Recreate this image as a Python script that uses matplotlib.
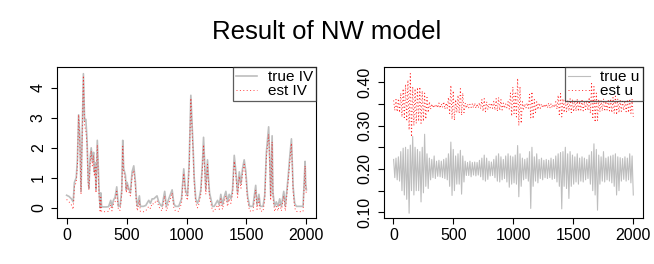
import numpy as np
import matplotlib
matplotlib.use("Agg")
import matplotlib.pyplot as plt

plt.rcParams['font.family'] = ['Liberation Sans', 'DejaVu Sans']

# ---- left panel: integrated variance, true vs estimated
iv_t = [0, 20, 40, 55, 65, 80, 90, 100, 110, 120, 130, 140, 150, 160, 170, 180, 186,
        195, 205, 215, 225, 231, 238, 245, 256, 265, 272, 280, 285, 292, 310, 330, 350,
        368, 378, 390, 404, 418, 432, 446, 460, 468, 476, 490, 498, 504, 518, 532, 546,
        560, 573, 582, 590, 607, 615, 640, 660, 685, 699, 713, 727, 741, 754, 768, 782,
        796, 818, 832, 852, 866, 880, 894, 907, 935, 958, 977, 991, 1008, 1022, 1036,
        1044, 1055, 1064, 1077, 1091, 1105, 1119, 1133, 1142, 1153, 1161, 1175, 1183,
        1192, 1203, 1217, 1231, 1245, 1259, 1273, 1286, 1300, 1314, 1328, 1342, 1356,
        1370, 1384, 1398, 1412, 1426, 1440, 1454, 1467, 1481, 1495, 1509, 1526, 1554,
        1577, 1588, 1604, 1615, 1638, 1652, 1666, 1685, 1694, 1702, 1714, 1721, 1735,
        1749, 1763, 1777, 1791, 1811, 1824, 1847, 1861, 1875, 1889, 1902, 1916, 1940,
        1972, 1989, 1994, 2000]
iv_true = [0.42, 0.38, 0.30, 0.20, 0.85, 1.00, 1.60, 3.10, 2.40, 0.55, 2.60, 4.47, 2.90,
           2.95, 2.30, 0.95, 0.65, 1.60, 2.00, 1.55, 1.85, 1.20, 1.50, 0.60, 2.25, 1.20,
           0.45, 0.00, 0.50, 0.03, 0.03, 0.03, 0.04, 0.25, 0.04, 0.25, 0.35, 0.70, 0.05,
           0.06, 0.60, 2.25, 1.30, 1.10, 0.60, 0.85, 0.65, 0.50, 1.20, 1.40, 0.90, 0.30,
           0.05, 0.40, 0.05, 0.05, 0.08, 0.25, 0.15, 0.30, 0.30, 0.35, 0.40, 0.20, 0.10,
           0.05, 0.55, 0.05, 0.30, 0.45, 0.60, 0.15, 0.05, 0.05, 0.30, 1.30, 0.60, 0.40,
           1.50, 3.75, 3.00, 2.00, 1.00, 0.30, 0.15, 0.30, 0.60, 1.50, 2.35, 1.30, 0.60,
           1.60, 1.00, 0.50, 0.30, 0.05, 0.05, 0.15, 0.25, 0.10, 0.45, 0.10, 0.35, 0.55,
           0.20, 0.45, 0.30, 0.60, 1.75, 1.20, 0.50, 1.20, 0.80, 1.30, 1.60, 1.20, 0.40,
           0.05, 0.05, 0.75, 0.10, 0.45, 0.05, 0.05, 0.40, 1.85, 2.70, 1.60, 0.40, 2.40,
           0.50, 0.05, 0.20, 0.05, 0.30, 0.05, 0.55, 0.05, 1.00, 1.70, 2.30, 0.70, 0.15,
           0.05, 0.05, 0.05, 1.55, 0.80, 0.60]
iv_est = [0.28, 0.20, 0.10, -0.05, 0.70, 0.85, 1.40, 3.10, 2.20, 0.45, 2.50, 4.40, 2.70,
          2.60, 2.10, 0.80, 0.60, 1.40, 1.90, 1.40, 1.75, 1.05, 1.35, 0.50, 2.10, 1.00,
          0.30, -0.15, 0.35, -0.12, -0.13, -0.12, -0.12, 0.10, -0.10, 0.12, 0.20, 0.55,
          -0.08, -0.08, 0.45, 2.05, 1.20, 0.95, 0.50, 0.75, 0.55, 0.40, 1.05, 1.25, 0.75,
          0.15, -0.10, 0.25, -0.12, -0.13, -0.10, 0.05, -0.02, 0.15, 0.12, 0.20, 0.25,
          0.05, -0.05, -0.10, 0.40, -0.10, 0.15, 0.30, 0.50, 0.00, -0.10, -0.12, 0.15,
          1.15, 0.45, 0.25, 1.30, 3.65, 2.80, 1.85, 0.85, 0.15, 0.00, 0.15, 0.45, 1.35,
          2.10, 1.15, 0.45, 1.45, 0.85, 0.35, 0.15, -0.10, -0.12, 0.00, 0.10, -0.05,
          0.30, -0.05, 0.20, 0.40, 0.05, 0.30, 0.15, 0.45, 1.55, 1.05, 0.35, 1.05, 0.65,
          1.15, 1.45, 1.00, 0.25, -0.10, -0.12, 0.60, -0.05, 0.30, -0.10, -0.12, 0.25,
          1.70, 2.45, 1.45, 0.25, 2.20, 0.35, -0.12, 0.05, -0.10, 0.15, -0.10, 0.40,
          -0.10, 0.85, 1.50, 2.15, 0.55, 0.00, -0.12, -0.13, -0.12, 1.40, 0.65, 0.45]

# ---- right panel: u series, upper / lower swings every 20 steps (t = 0..2000)
u_true_hi = [0.222, 0.225, 0.228, 0.240, 0.248, 0.250, 0.245, 0.255, 0.275, 0.250,
             0.245, 0.240, 0.250, 0.280, 0.235, 0.225, 0.222, 0.230, 0.218, 0.220,
             0.218, 0.222, 0.225, 0.235, 0.262, 0.245, 0.230, 0.235, 0.243, 0.230,
             0.218, 0.215, 0.218, 0.215, 0.216, 0.215, 0.220, 0.225, 0.232, 0.225,
             0.218, 0.216, 0.222, 0.230, 0.235, 0.228, 0.222, 0.230, 0.235, 0.230,
             0.228, 0.232, 0.254, 0.235, 0.225, 0.222, 0.225, 0.240, 0.250, 0.228,
             0.235, 0.222, 0.225, 0.220, 0.222, 0.220, 0.225, 0.222, 0.230, 0.235,
             0.238, 0.240, 0.250, 0.235, 0.240, 0.232, 0.228, 0.235, 0.225, 0.228,
             0.225, 0.222, 0.232, 0.240, 0.258, 0.245, 0.232, 0.228, 0.240, 0.225,
             0.228, 0.230, 0.232, 0.235, 0.228, 0.226, 0.224, 0.228, 0.225, 0.235,
             0.230]
u_true_lo = [0.180, 0.175, 0.172, 0.150, 0.140, 0.130, 0.098, 0.150, 0.140, 0.150,
             0.150, 0.124, 0.145, 0.160, 0.155, 0.175, 0.180, 0.178, 0.183, 0.182,
             0.180, 0.178, 0.175, 0.160, 0.139, 0.150, 0.165, 0.165, 0.142, 0.170,
             0.185, 0.185, 0.182, 0.186, 0.184, 0.186, 0.182, 0.175, 0.172, 0.176,
             0.184, 0.185, 0.180, 0.172, 0.170, 0.175, 0.178, 0.170, 0.158, 0.165,
             0.168, 0.165, 0.136, 0.160, 0.175, 0.178, 0.172, 0.109, 0.160, 0.172,
             0.168, 0.178, 0.175, 0.180, 0.178, 0.180, 0.176, 0.178, 0.170, 0.160,
             0.108, 0.160, 0.155, 0.132, 0.160, 0.165, 0.170, 0.165, 0.172, 0.170,
             0.175, 0.178, 0.165, 0.150, 0.140, 0.105, 0.165, 0.172, 0.170, 0.175,
             0.172, 0.168, 0.160, 0.140, 0.150, 0.172, 0.176, 0.172, 0.175, 0.168,
             0.140]
u_est_hi = [0.358, 0.360, 0.362, 0.375, 0.385, 0.395, 0.405, 0.420, 0.390, 0.385,
            0.388, 0.389, 0.380, 0.375, 0.365, 0.355, 0.350, 0.348, 0.349, 0.352,
            0.350, 0.355, 0.352, 0.365, 0.393, 0.380, 0.360, 0.370, 0.385, 0.375,
            0.352, 0.350, 0.349, 0.350, 0.352, 0.350, 0.353, 0.360, 0.362, 0.355,
            0.350, 0.352, 0.356, 0.362, 0.365, 0.360, 0.352, 0.350, 0.355, 0.375,
            0.389, 0.375, 0.409, 0.390, 0.355, 0.350, 0.352, 0.372, 0.378, 0.360,
            0.355, 0.352, 0.350, 0.349, 0.350, 0.352, 0.350, 0.349, 0.355, 0.370,
            0.374, 0.362, 0.360, 0.358, 0.362, 0.360, 0.358, 0.360, 0.356, 0.358,
            0.355, 0.358, 0.365, 0.397, 0.390, 0.375, 0.360, 0.358, 0.362, 0.356,
            0.358, 0.362, 0.365, 0.368, 0.362, 0.358, 0.356, 0.358, 0.360, 0.362,
            0.360]
u_est_lo = [0.335, 0.332, 0.330, 0.320, 0.315, 0.310, 0.290, 0.274, 0.300, 0.305,
            0.310, 0.305, 0.310, 0.315, 0.330, 0.338, 0.341, 0.342, 0.341, 0.340,
            0.342, 0.338, 0.340, 0.328, 0.315, 0.312, 0.330, 0.328, 0.324, 0.330,
            0.340, 0.341, 0.342, 0.341, 0.340, 0.341, 0.339, 0.333, 0.332, 0.337,
            0.341, 0.340, 0.336, 0.333, 0.335, 0.336, 0.340, 0.341, 0.338, 0.322,
            0.328, 0.320, 0.300, 0.305, 0.338, 0.341, 0.340, 0.318, 0.316, 0.330,
            0.337, 0.340, 0.341, 0.342, 0.341, 0.340, 0.341, 0.342, 0.338, 0.322,
            0.320, 0.330, 0.332, 0.334, 0.330, 0.332, 0.334, 0.333, 0.336, 0.334,
            0.337, 0.335, 0.328, 0.315, 0.308, 0.312, 0.332, 0.334, 0.333, 0.336,
            0.334, 0.330, 0.328, 0.325, 0.330, 0.333, 0.335, 0.332, 0.330, 0.328,
            0.320]

true_col = '#BEBEBE'
est_col = 'red'
dots = (0, (1, 2.5))
fs = 11.5


def zigzag(hi, lo):
    x = np.linspace(1, 2000, 2 * len(hi))
    y = np.column_stack((hi, lo)).ravel()
    return x, y


def style(ax):
    for s in ax.spines.values():
        s.set_linewidth(0.8)
    ax.tick_params(length=4, width=0.8, labelsize=fs, pad=3)
    ax.tick_params(axis='y', pad=4)
    for lab in ax.get_yticklabels():
        lab.set_rotation(90)
        lab.set_va('center')
    ax.set_xticks([0, 500, 1000, 1500, 2000])
    ax.set_xlim(-80, 2080)


def add_legend(ax, labels):
    leg = ax.legend(labels, loc='upper right', borderaxespad=0, fontsize=fs - 0.5,
                    frameon=True, fancybox=False, edgecolor='#333333',
                    facecolor='none', handlelength=1.4, handletextpad=0.7,
                    labelspacing=0.0, borderpad=0.2)
    leg.get_frame().set_linewidth(0.9)


fig = plt.figure(figsize=(6.54, 2.64), dpi=100)
fig.suptitle('Result of NW model', fontsize=18.5, y=0.925)

ax1 = fig.add_axes([0.0872, 0.174, 0.396, 0.572])
ax1.plot(iv_t, iv_true, color=true_col, lw=1.2)
ax1.plot(iv_t, iv_est, color=est_col, lw=0.7, ls=dots, alpha=0.75)
ax1.set_ylim(-0.34, 4.69)
ax1.set_yticks([0, 1, 2, 3, 4])
style(ax1)
add_legend(ax1, ['true IV', 'est IV'])

ax2 = fig.add_axes([0.587, 0.174, 0.396, 0.572])
x, y = zigzag(u_true_hi, u_true_lo)
ax2.plot(x, y, color=true_col, lw=0.8)
x, y = zigzag(u_est_hi, u_est_lo)
ax2.plot(x, y, color=est_col, lw=0.7, ls=dots, alpha=0.85)
ax2.set_ylim(0.0868, 0.435)
ax2.set_yticks([0.10, 0.15, 0.20, 0.25, 0.30, 0.35, 0.40])
ax2.set_yticklabels(['0.10', '', '0.20', '', '0.30', '', '0.40'])
style(ax2)
add_legend(ax2, ['true u', 'est u'])

fig.savefig('out.png', dpi=100)
